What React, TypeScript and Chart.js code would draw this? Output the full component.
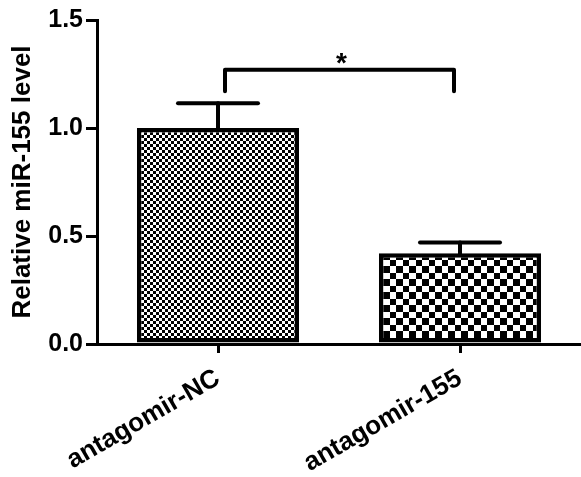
import React, { useEffect, useRef } from "react";
import { Chart, registerables } from "chart.js";

Chart.register(...registerables);

const categories = ["antagomir-NC", "antagomir-155"];
const means = [1.0, 0.42];
const sems = [0.115, 0.05];
const yTickValues = [0, 0.5, 1.0, 1.5];
const yTitle = "Relative miR-155 level";
const sigPair = [0, 1];
const sigBracketValue = 1.27;
const sigLegBottomValue = 1.17;
const sigLabel = "*";

function makePattern(a: number, b: number): CanvasPattern | string {
  const tile = a + b;
  const c = document.createElement("canvas");
  c.width = tile;
  c.height = tile;
  const g = c.getContext("2d");
  if (!g) return "#888";
  g.fillStyle = "#ffffff";
  g.fillRect(0, 0, tile, tile);
  g.fillStyle = "#000000";
  g.fillRect(0, 0, a, a);
  g.fillRect(a, a, b, b);
  const p = g.createPattern(c, "repeat");
  return p || "#888";
}

const annotationPlugin = {
  id: "annotations",
  afterDatasetsDraw(chart: any) {
    const ctx = chart.ctx;
    const x = chart.scales.x;
    const y = chart.scales.y;
    ctx.save();
    ctx.strokeStyle = "#000";
    ctx.lineWidth = 4;
    ctx.lineCap = "round";
    ctx.lineJoin = "round";
    means.forEach((m, i) => {
      const cx = x.getPixelForValue(i);
      const y0 = y.getPixelForValue(m);
      const y1 = y.getPixelForValue(m + sems[i]);
      ctx.beginPath();
      ctx.moveTo(cx, y0);
      ctx.lineTo(cx, y1);
      ctx.stroke();
      ctx.beginPath();
      ctx.moveTo(cx - 40, y1);
      ctx.lineTo(cx + 40, y1);
      ctx.stroke();
    });
    const xa = x.getPixelForValue(sigPair[0]) + 7;
    const xb = x.getPixelForValue(sigPair[1]) - 6;
    const yb = y.getPixelForValue(sigBracketValue);
    const yl = y.getPixelForValue(sigLegBottomValue);
    ctx.beginPath();
    ctx.moveTo(xa, yl);
    ctx.lineTo(xa, yb);
    ctx.lineTo(xb, yb);
    ctx.lineTo(xb, yl);
    ctx.stroke();
    ctx.fillStyle = "#000";
    ctx.font = "bold 28px 'Liberation Sans', Arial, sans-serif";
    ctx.textAlign = "center";
    ctx.textBaseline = "alphabetic";
    ctx.fillText(sigLabel, (xa + xb) / 2 + 2, yb + 2);
    ctx.restore();
  },
};

export default function App() {
  const ref = useRef<HTMLCanvasElement | null>(null);
  useEffect(() => {
    if (!ref.current) return;
    const fine = makePattern(3, 3);
    const coarse = makePattern(6, 7);
    const chart = new Chart(ref.current, {
      type: "bar",
      data: {
        labels: categories,
        datasets: [
          {
            data: means,
            backgroundColor: [fine, coarse] as any,
            borderColor: "#000",
            borderWidth: 4.5,
            borderSkipped: false,
            categoryPercentage: 1,
            barPercentage: 0.67,
          },
        ],
      },
      options: {
        responsive: false,
        animation: false,
        layout: { padding: { top: 20, left: 0, right: 0, bottom: 0 } },
        plugins: { legend: { display: false }, tooltip: { enabled: false } },
        scales: {
          x: {
            offset: true,
            grid: {
              offset: false,
              display: true,
              drawOnChartArea: false,
              drawTicks: true,
              tickLength: 9,
              color: "#000",
              lineWidth: 3,
            },
            border: { display: true, color: "#000", width: 3 },
            ticks: {
              color: "#000",
              font: { family: "'Liberation Sans', Arial, sans-serif", size: 26, weight: "bold" },
              maxRotation: 30,
              minRotation: 30,
              padding: 10,
            },
            afterFit: (s: any) => {
              s.height = 133;
            },
          },
          y: {
            min: 0,
            max: 1.5,
            grid: {
              display: true,
              drawOnChartArea: false,
              drawTicks: true,
              tickLength: 11,
              color: "#000",
              lineWidth: 3,
            },
            border: { display: true, color: "#000", width: 3 },
            afterBuildTicks: (s: any) => {
              s.ticks = yTickValues.map((v) => ({ value: v }));
            },
            ticks: {
              color: "#000",
              font: { family: "'Liberation Sans', Arial, sans-serif", size: 25, weight: "bold" },
              padding: 3,
              callback: (v: any) => Number(v).toFixed(1),
            },
            title: {
              display: true,
              text: yTitle,
              color: "#000",
              font: { family: "'Liberation Sans', Arial, sans-serif", size: 26, weight: "bold" },
              padding: { top: 7, bottom: 0 },
            },
            afterFit: (s: any) => {
              s.width = 97;
            },
          },
        },
      },
      plugins: [annotationPlugin],
    });
    return () => chart.destroy();
  }, []);
  return (
    <div style={{ position: "fixed", left: 0, top: 0, width: 581, height: 477, background: "#fff" }}>
      <canvas ref={ref} width={581} height={477} />
    </div>
  );
}
